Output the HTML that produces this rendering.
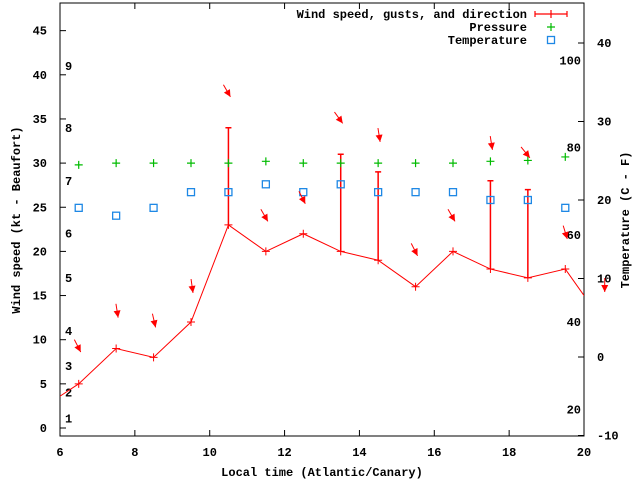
<!DOCTYPE html>
<html><head><meta charset="utf-8"><style>
html,body{margin:0;padding:0;background:#fff}
svg{display:block}
text{font-family:"Liberation Mono",monospace;font-size:12px;font-weight:bold;fill:#000}
</style></head><body>
<svg id="chart" width="640" height="480" viewBox="0 0 640 480" xmlns="http://www.w3.org/2000/svg"></svg>
<script>
const times=[5.5,6.5,7.5,8.5,9.5,10.5,11.5,12.5,13.5,14.5,15.5,16.5,17.5,18.5,19.5,20.5];
const windSpeed=[2.2,5,9,8,12,23,20,22,20,19,16,20,18,17,18,12];
const gustTimes=[10.5,13.5,14.5,17.5,18.5];
const gustValues=[34,31,29,28,27];
const obsTimes=[6.5,7.5,8.5,9.5,10.5,11.5,12.5,13.5,14.5,15.5,16.5,17.5,18.5,19.5];
const pressure=[29.8,30,30,30,30,30.2,30,30,30,30,30,30.2,30.3,30.7];
const temperature=[19,18,19,21,21,22,21,22,21,21,21,20,20,19];
const arrowTimes=[6.5,7.5,8.5,9.5,10.5,11.5,12.5,13.5,14.5,15.5,16.5,17.5,18.5,19.5,20.5];
const arrowLevel=[8.6,12.5,11.4,15.3,37.5,23.4,25.4,34.5,32.4,19.5,23.4,31.5,30.6,21.4,15.4];
const windDir=[333,351,347,352,330,330,333,324,351,333,330,351,321,343,0];
const xTicks=[6,8,10,12,14,16,18,20];
const yTicks=[0,5,10,15,20,25,30,35,40,45];
const y2Ticks=[-10,0,10,20,30,40];
const beaufortLabels=["1","2","3","4","5","6","7","8","9"];
const beaufortKt=[1.1,4,7,11,17,22,28,34,41];
const fLabels=["20","40","60","80","100"];
const fValues=[20,40,60,80,100];

const L=60,R=584,T=3,B=436;
const X=t=>L+(t-6)*(R-L)/14;
const Y=v=>428-v*8.83;
const Y2=c=>357-c*7.85;
const Yf=f=>Y2((f-32)*5/9);
const svg=document.getElementById('chart');
const NS='http://www.w3.org/2000/svg';
function mk(tag,attrs,parent){const e=document.createElementNS(NS,tag);for(const k in attrs)e.setAttribute(k,attrs[k]);(parent||svg).appendChild(e);return e;}
function txt(x,y,s,anchor){const e=mk('text',{x:x,y:y,'text-anchor':anchor||'start'});e.textContent=s;return e;}

// clip
const defs=mk('defs',{});const cp=mk('clipPath',{id:'pc'},defs);mk('rect',{x:L,y:T,width:R-L,height:B-T},cp);

// axes frame
const frame=mk('rect',{x:L,y:T,width:R-L,height:B-T,fill:'none',stroke:'#000','stroke-width':1});



xTicks.forEach(t=>{
  const x=X(t);
  mk('line',{x1:x,y1:B,x2:x,y2:B-6,stroke:'#000'});
  mk('line',{x1:x,y1:T,x2:x,y2:T+6,stroke:'#000'});
  const l=txt(x,456,String(t),'middle');
  
  
});
yTicks.forEach(v=>{
  const y=Y(v);
  mk('line',{x1:L,y1:y,x2:L+6,y2:y,stroke:'#000'});
  const l=txt(47,y+4,String(v),'end');
  
  
});
y2Ticks.forEach(v=>{
  const y=Y2(v);
  mk('line',{x1:R,y1:y,x2:R-6,y2:y,stroke:'#000'});
  const l=txt(597,y+4,String(v),'start');
  
  
});
beaufortLabels.forEach((s,i)=>{
  const l=txt(65,Y(beaufortKt[i])+4,s,'start');
  
  
});
fLabels.forEach((s,i)=>{
  const l=txt(581,Yf(fValues[i])+4,s,'end');
  
  
});

// axis titles
const xt=txt(322,476,'Local time (Atlantic/Canary)','middle');


const yt=txt(0,0,'Wind speed (kt - Beaufort)','middle');
yt.setAttribute('transform','translate(20,220) rotate(-90)');


const y2t=txt(0,0,'Temperature (C - F)','middle');
y2t.setAttribute('transform','translate(629,220) rotate(-90)');



const g=mk('g',{'clip-path':'url(#pc)'});
// wind line
const pts=times.map((t,i)=>X(t)+','+Y(windSpeed[i])).join(' ');
const wl=mk('polyline',{points:pts,fill:'none',stroke:'#f00','stroke-width':1},g);


times.forEach((t,i)=>{
  const x=X(t),y=Y(windSpeed[i]);
  const p=mk('path',{d:`M${x-4},${y}H${x+4}M${x},${y-4}V${y+4}`,stroke:'#f00'},g);
  
  
});
// gusts
gustTimes.forEach((t,i)=>{
  const x=X(t);
  const wi=times.indexOf(t);
  const y0=Y(windSpeed[wi]),y1=Y(gustValues[i]);
  const p=mk('path',{d:`M${x},${y0}V${y1}M${x-3},${y1}H${x+3}`,stroke:'#f00','stroke-width':1.5},g);
  
  
});
// pressure
obsTimes.forEach((t,i)=>{
  const x=X(t),y=Y(pressure[i]);
  const p=mk('path',{d:`M${x-4},${y}H${x+4}M${x},${y-4}V${y+4}`,stroke:'#0b0','stroke-width':1.2},g);
  
  
});
// temperature
obsTimes.forEach((t,i)=>{
  const x=X(t),y=Y2(temperature[i]);
  const r=mk('rect',{x:x-3.5,y:y-3.5,width:7,height:7,fill:'none',stroke:'#1e88e5','stroke-width':1.3},g);
  
  
});
// direction arrows
arrowTimes.forEach((t,i)=>{
  const th=windDir[i]*Math.PI/180;
  const ux=-Math.sin(th),uy=Math.cos(th);
  const hx=X(t)+2,hy=Y(arrowLevel[i]);
  const tx=hx-ux*14,ty=hy-uy*14;
  const a=mk('g',{},svg);
  
  
  mk('line',{x1:tx,y1:ty,x2:hx,y2:hy,stroke:'#f00','stroke-width':1},a);
  const bx=hx-ux*7,by=hy-uy*7,px=-uy*3.5,py=ux*3.5;
  mk('polygon',{points:`${hx},${hy} ${bx+px},${by+py} ${bx-px},${by-py}`,fill:'#f00'},a);
});

// legend
const lg=mk('g',{});


const e1=txt(527,18,'Wind speed, gusts, and direction','end');lg.appendChild(e1);
mk('path',{d:'M535,14H567M535,11V17M567,11V17M551,10V18',stroke:'#f00','stroke-width':1.2},lg);
const e2=txt(527,31,'Pressure','end');lg.appendChild(e2);
mk('path',{d:'M547,27H555M551,23V31',stroke:'#0b0','stroke-width':1.2},lg);
const e3=txt(527,44,'Temperature','end');lg.appendChild(e3);
mk('rect',{x:547.5,y:36.5,width:7,height:7,fill:'none',stroke:'#1e88e5','stroke-width':1.3},lg);
</script>
</body></html>
